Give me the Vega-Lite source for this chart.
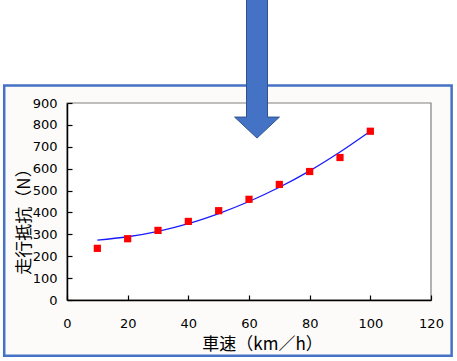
{
  "$schema": "https://vega.github.io/schema/vega-lite/v6.json",
  "autosize": "none",
  "width": 364,
  "height": 197,
  "padding": {"left": 67, "top": 103, "right": 26, "bottom": 61},
  "background": "#ffffff",
  "config": {
    "view": {"stroke": null},
    "axis": {
      "grid": false,
      "domainColor": "#000000",
      "domainWidth": 1.5,
      "tickColor": "#000000",
      "tickWidth": 1.2,
      "tickSize": -5,
      "labelColor": "#000000",
      "labelFont": "DejaVu Sans",
      "labelFontSize": 13,
      "labelOverlap": false,
      "labelFlush": false,
      "titleFont": "Noto Sans CJK JP",
      "titleFontSize": 17,
      "titleFontWeight": "normal",
      "titleColor": "#000000"
    },
    "axisX": {"tickCount": 7, "labelPadding": 22, "titleX": 195, "titleY": 44, "titleBaseline": "middle"},
    "axisY": {"tickCount": 10, "labelPadding": 15, "titleX": -43, "titleY": 114, "titleAngle": -90, "titleBaseline": "middle", "titleAlign": "center"}
  },
  "datasets": {
    "measured": [
      {"speed": 10, "resistance": 236},
      {"speed": 20, "resistance": 280},
      {"speed": 30, "resistance": 318},
      {"speed": 40, "resistance": 359},
      {"speed": 50, "resistance": 408},
      {"speed": 60, "resistance": 460},
      {"speed": 70, "resistance": 528},
      {"speed": 80, "resistance": 587},
      {"speed": 90, "resistance": 651},
      {"speed": 100, "resistance": 771}
    ],
    "curve": [
      {"speed": 10, "resistance": 274},
      {"speed": 20, "resistance": 289},
      {"speed": 30, "resistance": 314},
      {"speed": 40, "resistance": 349},
      {"speed": 50, "resistance": 395},
      {"speed": 60, "resistance": 450},
      {"speed": 70, "resistance": 515},
      {"speed": 80, "resistance": 590},
      {"speed": 90, "resistance": 676},
      {"speed": 100, "resistance": 771}
    ]
  },
  "layer": [
    {
      "data": {"values": [{}]},
      "mark": {"type": "rect", "fill": "#fcfbf9", "stroke": "#4472c4", "strokeWidth": 2.5, "clip": false},
      "encoding": {
        "x": {"datum": -20.7, "type": "quantitative", "scale": {"domain": [0, 120], "nice": false}, "title": "車速（km／h）"},
        "x2": {"datum": 126.8},
        "y": {"datum": -255, "type": "quantitative", "scale": {"domain": [0, 900], "nice": false}, "title": "走行抵抗（N）"},
        "y2": {"datum": 980}
      }
    },
    {
      "data": {"values": [{}]},
      "mark": {"type": "rect", "fill": "#ffffff", "stroke": "#808080", "strokeWidth": 1.2, "clip": false},
      "encoding": {
        "x": {"datum": 0, "type": "quantitative", "scale": {"domain": [0, 120], "nice": false}, "title": "車速（km／h）"},
        "x2": {"datum": 120},
        "y": {"datum": 0, "type": "quantitative", "scale": {"domain": [0, 900], "nice": false}, "title": "走行抵抗（N）"},
        "y2": {"datum": 900}
      }
    },
    {
      "data": {"name": "curve"},
      "mark": {"type": "line", "color": "#1a1aff", "strokeWidth": 1.3, "interpolate": "monotone"},
      "encoding": {
        "x": {"field": "speed", "type": "quantitative", "scale": {"domain": [0, 120], "nice": false}, "title": "車速（km／h）"},
        "y": {"field": "resistance", "type": "quantitative", "scale": {"domain": [0, 900], "nice": false}, "title": "走行抵抗（N）"}
      }
    },
    {
      "data": {"name": "measured"},
      "mark": {"type": "point", "shape": "square", "filled": true, "size": 52, "color": "#ff0000", "opacity": 1},
      "encoding": {
        "x": {
          "field": "speed", "type": "quantitative",
          "scale": {"domain": [0, 120], "nice": false},
          "title": "車速（km／h）",
          "axis": {"values": [0, 20, 40, 60, 80, 100, 120], "zindex": 2}
        },
        "y": {
          "field": "resistance", "type": "quantitative",
          "scale": {"domain": [0, 900], "nice": false},
          "title": "走行抵抗（N）",
          "axis": {"values": [0, 100, 200, 300, 400, 500, 600, 700, 800, 900], "zindex": 2}
        }
      }
    },
    {
      "data": {"values": [{}]},
      "mark": {
        "type": "point",
        "shape": "M -0.15 -1 L 0.15 -1 L 0.15 0.686 L 0.32 0.686 L 0 0.986 L -0.32 0.686 L -0.15 0.686 Z",
        "size": 19600,
        "filled": true,
        "fill": "#4472c4",
        "stroke": "#2f528f",
        "strokeWidth": 1,
        "opacity": 1,
        "fillOpacity": 1,
        "clip": false
      },
      "encoding": {
        "x": {"datum": 62.64, "type": "quantitative", "scale": {"domain": [0, 120], "nice": false}, "title": "車速（km／h）"},
        "y": {"datum": 1055, "type": "quantitative", "scale": {"domain": [0, 900], "nice": false}, "title": "走行抵抗（N）"}
      }
    }
  ]
}
